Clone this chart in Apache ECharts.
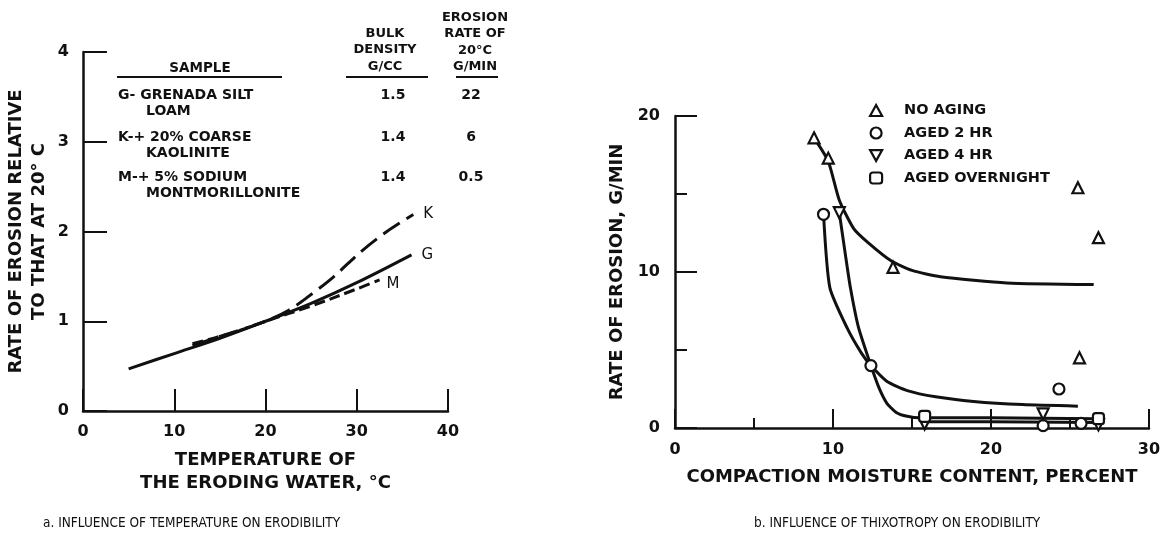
<!DOCTYPE html>
<html>
<head>
<meta charset="utf-8">
<script src="https://cdn.jsdelivr.net/npm/echarts@6.0.0/dist/echarts.min.js"></script>
<style>
html,body{margin:0;padding:0;background:#fff;}
#chart{width:1164px;height:534px;}
</style>
</head>
<body>
<div id="chart"></div>
<script>
// ---------- Panel a: temperature ----------
const tempTicks = [0, 10, 20, 30, 40];
const curveG = [[5,0.47],[10,0.64],[15,0.81],[20,1.0],[25,1.2],[30,1.43],[36,1.74]];
const curveK = [[12,0.73],[15,0.83],[20,1.0],[22.5,1.12],[24.5,1.26],[27.4,1.49],[30.4,1.77],[33.3,2.0],[36.2,2.19]];
const curveM = [[12,0.75],[16,0.86],[20,1.0],[25,1.17],[30,1.36],[32.5,1.46]];

// table
const tableSamples = [['G- GRENADA SILT','LOAM'],['K-+ 20% COARSE','KAOLINITE'],['M-+ 5% SODIUM','MONTMORILLONITE']];
const tableDensity = ['1.5','1.4','1.4'];
const tableRate = ['22','6','0.5'];
const tableHeaders = ['SAMPLE', 'BULK\nDENSITY\nG/CC', 'EROSION\nRATE OF\n20°C\nG/MIN'];

// ---------- Panel b: thixotropy ----------
const noAgingPts = [[8.8,18.6],[9.7,17.3],[13.8,10.3],[25.5,15.4],[26.8,12.2],[25.6,4.5]];
const aged2Pts = [[9.4,13.7],[12.4,4.0],[24.3,2.5],[23.3,0.15],[25.7,0.3]];
const aged4Pts = [[10.4,13.8],[15.8,0.25],[23.3,0.9],[26.8,0.2]];
const overnightPts = [[15.8,0.75],[26.8,0.6]];

const noAgingCurve = [[8.8,18.6],[9.7,17.1],[10.4,14.6],[11.3,12.8],[12.2,11.9],[13.7,10.7],[15,10.1],[16.8,9.7],[21,9.3],[26.5,9.2]];
const aged2Curve = [[9.4,13.7],[9.8,9.0],[10.9,6.4],[11.8,4.8],[12.4,4.0],[13.4,3.0],[14.7,2.4],[16.5,2.0],[18.9,1.7],[22,1.5],[25.5,1.4]];
const aged4Curve = [[10.4,13.8],[10.8,11],[11.1,9.0],[11.6,6.5],[12.4,4.0],[12.9,2.6],[13.4,1.6],[14,1.0],[14.7,0.75],[15.5,0.65],[20,0.65],[26.7,0.6]];
const overnightCurve = [[15.8,0.4],[20,0.4],[26.8,0.35]];

const legendNames = ['NO AGING','AGED 2 HR','AGED 4 HR','AGED OVERNIGHT'];
const downTri = 'path://M0,0L10,0L5,9Z';

const FONT = 'DejaVu Sans';
const INK = '#111';

const chart = echarts.init(document.getElementById('chart'), null, {renderer:'canvas'});

function axisCommon(extra){
  return Object.assign({
    type:'value',
    splitLine:{show:false},
    axisLine:{show:true, onZero:false, lineStyle:{color:INK, width:2.5}},
    axisTick:{show:true, inside:true, lineStyle:{color:INK, width:2}},
    axisLabel:{color:INK, fontFamily:FONT, fontWeight:'bold', fontSize:16},
    nameTextStyle:{color:INK, fontFamily:FONT, fontWeight:'bold', fontSize:18, lineHeight:23}
  }, extra);
}

// table graphics
const tg = [];
const txt = (x,y,text,align,size) => ({type:'text', x:x, y:y, style:{text:text, fill:INK, font:'bold '+(size||14)+'px "'+FONT+'"', align:align||'left', verticalAlign:'middle', lineHeight:16.5}});
tg.push(txt(200,68,tableHeaders[0],'center',13.5));
tg.push({type:'text', x:385, y:50, style:{text:tableHeaders[1], fill:INK, font:'bold 13px "'+FONT+'"', align:'center', verticalAlign:'middle', lineHeight:16.5}});
tg.push({type:'text', x:475, y:42, style:{text:tableHeaders[2], fill:INK, font:'bold 13px "'+FONT+'"', align:'center', verticalAlign:'middle', lineHeight:16.5}});
[[117,282],[346,428],[456,498]].forEach(s => tg.push({type:'line', shape:{x1:s[0],y1:77,x2:s[1],y2:77}, style:{stroke:INK, lineWidth:2}}));
const rowY = [95,137,177];
tableSamples.forEach((s,i) => {
  tg.push(txt(118,rowY[i],s[0],'left'));
  tg.push(txt(146,rowY[i]+16.5,s[1],'left'));
  tg.push(txt(393,rowY[i],tableDensity[i],'center'));
  tg.push(txt(471,rowY[i],tableRate[i],'center'));
});

const lineBase = {type:'line', showSymbol:false, symbol:'none', silent:true, smooth:0.2};
const scatterBase = {type:'scatter', xAxisIndex:1, yAxisIndex:1, symbolSize:11, z:5,
  itemStyle:{color:'#fff', borderColor:INK, borderWidth:2.2, opacity:1}};

const option = {
  animation:false,
  backgroundColor:'#fff',
  title:[
    {text:'a. INFLUENCE OF TEMPERATURE ON ERODIBILITY', left:38, top:511,
     textStyle:{fontFamily:'Liberation Sans Narrow, DejaVu Sans Condensed, sans-serif', fontWeight:'normal', fontSize:13.5, color:INK}},
    {text:'b. INFLUENCE OF THIXOTROPY ON ERODIBILITY', left:749, top:511,
     textStyle:{fontFamily:'Liberation Sans Narrow, DejaVu Sans Condensed, sans-serif', fontWeight:'normal', fontSize:13.5, color:INK}}
  ],
  legend:{
    data: legendNames.map((n,i)=>({name:n, icon:['triangle','circle',downTri,'roundRect'][i]})),
    orient:'vertical', left:869, top:103, padding:0,
    itemWidth:12, itemHeight:11, itemGap:7.5, selectedMode:false,
    itemStyle:{color:'#fff', borderColor:INK, borderWidth:2.2},
    textStyle:{color:INK, fontFamily:FONT, fontWeight:'bold', fontSize:14.5, padding:[0,0,0,17]}
  },
  grid:[
    {left:83, top:52, width:365, height:359},
    {left:675, top:116, width:474, height:312}
  ],
  xAxis:[
    axisCommon({gridIndex:0, min:0, max:40, interval:10,
      axisTick:{show:true, inside:true, length:22, lineStyle:{color:INK, width:2}},
      axisLabel:{color:INK, fontFamily:FONT, fontWeight:'bold', fontSize:16, margin:13},
      name:'TEMPERATURE OF\nTHE ERODING WATER, °C', nameLocation:'middle', nameGap:38}),
    axisCommon({gridIndex:1, min:0, max:30, interval:10,
      axisTick:{show:true, inside:true, length:19, lineStyle:{color:INK, width:2}},
      minorTick:{show:true, splitNumber:2, length:10, lineStyle:{color:INK, width:2}},
      axisLabel:{color:INK, fontFamily:FONT, fontWeight:'bold', fontSize:16, margin:14},
      name:'COMPACTION MOISTURE CONTENT, PERCENT', nameLocation:'middle', nameGap:38})
  ],
  yAxis:[
    axisCommon({gridIndex:0, min:0, max:4, interval:1,
      axisTick:{show:true, inside:true, length:24, lineStyle:{color:INK, width:2}},
      axisLabel:{color:INK, fontFamily:FONT, fontWeight:'bold', fontSize:16, margin:14},
      name:'RATE OF EROSION RELATIVE\nTO THAT AT 20° C', nameLocation:'middle', nameGap:32}),
    axisCommon({gridIndex:1, min:0, max:20, interval:10,
      axisTick:{show:true, inside:true, length:22, lineStyle:{color:INK, width:2}},
      minorTick:{show:true, splitNumber:2, length:12, lineStyle:{color:INK, width:2}},
      axisLabel:{color:INK, fontFamily:FONT, fontWeight:'bold', fontSize:16, margin:15},
      name:'RATE OF EROSION, G/MIN', nameLocation:'middle', nameGap:46})
  ],
  graphic: tg,
  series:[
    Object.assign({}, lineBase, {name:'G', data:curveG, z:3, smooth:0.35, lineStyle:{color:INK, width:3},
      endLabel:{show:true, formatter:'{a}', distance:10, color:INK, fontFamily:FONT, fontSize:15}}),
    Object.assign({}, lineBase, {name:'K', data:curveK, smooth:0.3, lineStyle:{color:INK, width:3, type:[20,8]},
      endLabel:{show:true, formatter:'{a}', distance:10, color:INK, fontFamily:FONT, fontSize:15}}),
    Object.assign({}, lineBase, {name:'M', data:curveM, smooth:0.35, lineStyle:{color:INK, width:3, type:[11,5]},
      endLabel:{show:true, formatter:'{a}', distance:7, offset:[0,4], color:INK, fontFamily:FONT, fontSize:15}}),

    Object.assign({}, lineBase, {name:'no aging curve', xAxisIndex:1, yAxisIndex:1, data:noAgingCurve, lineStyle:{color:INK, width:3}}),
    Object.assign({}, lineBase, {name:'aged 2 hr curve', xAxisIndex:1, yAxisIndex:1, data:aged2Curve, lineStyle:{color:INK, width:3}}),
    Object.assign({}, lineBase, {name:'aged 4 hr curve', xAxisIndex:1, yAxisIndex:1, data:aged4Curve, lineStyle:{color:INK, width:3}}),
    Object.assign({}, lineBase, {name:'aged overnight curve', xAxisIndex:1, yAxisIndex:1, data:overnightCurve, smooth:false, lineStyle:{color:INK, width:3}}),

    Object.assign({}, scatterBase, {name:legendNames[0], symbol:'triangle', data:noAgingPts}),
    Object.assign({}, scatterBase, {name:legendNames[1], symbol:'circle', data:aged2Pts}),
    Object.assign({}, scatterBase, {name:legendNames[2], symbol:downTri, data:aged4Pts}),
    Object.assign({}, scatterBase, {name:legendNames[3], symbol:'roundRect', data:overnightPts})
  ]
};
chart.setOption(option);
</script>
</body>
</html>
